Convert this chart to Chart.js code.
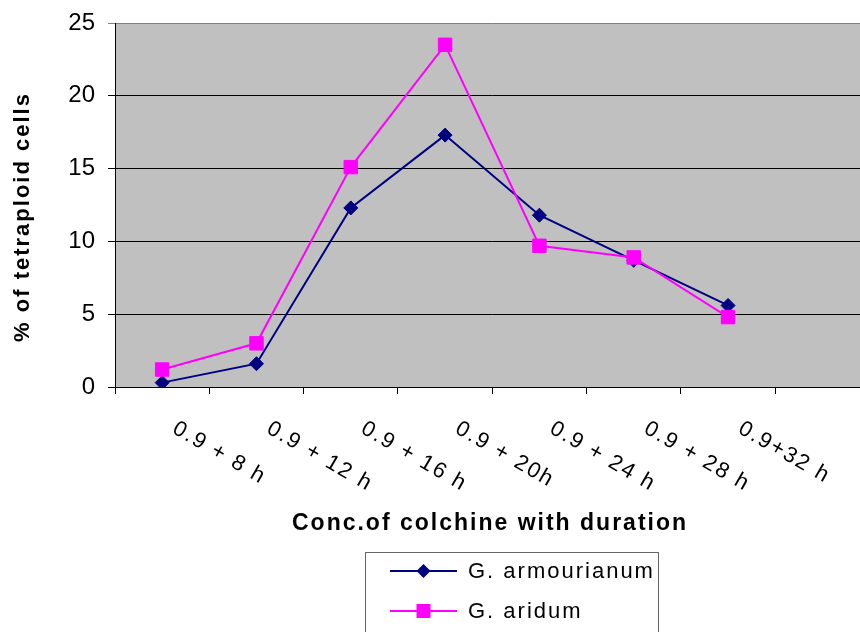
<!doctype html>
<html lang="en">
  <head>
    <meta charset="utf-8">
    <title>Tetraploid cells vs colchicine treatment</title>
    <style>
      html, body { margin: 0; padding: 0; background: #fff; overflow: hidden; }
      .chartBox { width: 880px; height: 632px; }
    </style>
  </head>
  <body>
    <div class="chartBox">
      <canvas id="myChart" width="880" height="632"></canvas>
    </div>
    <script src="https://cdn.jsdelivr.net/npm/chart.js"></script>
    <script>
      // data
      const categories = ['0.9 + 8 h', '0.9 + 12 h', '0.9 + 16 h', '0.9 + 20h', '0.9 + 24 h', '0.9 + 28 h', '0.9+32 h', ''];
      const armourianum = [0.3, 1.6, 12.3, 17.3, 11.8, 8.7, 5.6];
      const aridum = [1.2, 3.0, 15.1, 23.5, 9.7, 8.9, 4.8];
      const yTicks = [0, 5, 10, 15, 20, 25];
      const xTitle = 'Conc.of colchine with duration';
      const yTitle = '% of tetraploid cells';

      const NAVY = '#000080';
      const PINK = '#FF00FF';
      const FONT = '"Liberation Sans", Arial, sans-serif';

      // grey plot area
      const plotBg = {
        id: 'plotBg',
        beforeDraw(chart) {
          const { ctx, chartArea: a } = chart;
          ctx.save();
          ctx.fillStyle = '#C0C0C0';
          ctx.fillRect(a.left, a.top, a.right - a.left, a.bottom - a.top);
          ctx.restore();
        }
      };

      // slanted x labels, axis titles and the boxed legend
      const extras = {
        id: 'extras',
        afterDraw(chart) {
          const { ctx, chartArea: a } = chart;
          const xs = chart.scales.x;
          ctx.save();
          ctx.fillStyle = '#000';
          ctx.letterSpacing = '2px';

          // x labels, rotated clockwise
          ctx.font = '22px ' + FONT;
          ctx.textAlign = 'left';
          ctx.textBaseline = 'middle';
          categories.forEach((lab, i) => {
            if (!lab) return;
            const px = xs.getPixelForTick(i);
            ctx.save();
            ctx.translate(px + 12, a.bottom + 40);
            ctx.rotate(30 * Math.PI / 180);
            ctx.fillText(lab, 0, 0);
            ctx.restore();
          });

          // x title
          ctx.font = 'bold 23px ' + FONT;
          ctx.textAlign = 'center';
          ctx.fillText(xTitle, 490, 524);

          // y title
          ctx.save();
          ctx.font = 'bold 22px ' + FONT;
          ctx.translate(23, 217);
          ctx.rotate(-Math.PI / 2);
          ctx.fillText(yTitle, 0, 0);
          ctx.restore();

          // legend box
          ctx.strokeStyle = '#666';
          ctx.lineWidth = 1;
          ctx.strokeRect(365.5, 552.5, 293, 100);
          const items = [
            { label: 'G. armourianum', color: NAVY, shape: 'diamond', y: 571 },
            { label: 'G. aridum', color: PINK, shape: 'square', y: 611 }
          ];
          items.forEach(it => {
            ctx.strokeStyle = it.color;
            ctx.fillStyle = it.color;
            ctx.lineWidth = 2;
            ctx.beginPath();
            ctx.moveTo(390, it.y);
            ctx.lineTo(457, it.y);
            ctx.stroke();
            const cx = 423.5;
            ctx.beginPath();
            if (it.shape === 'diamond') {
              ctx.moveTo(cx, it.y - 7);
              ctx.lineTo(cx + 7, it.y);
              ctx.lineTo(cx, it.y + 7);
              ctx.lineTo(cx - 7, it.y);
              ctx.closePath();
              ctx.fill();
            } else {
              ctx.fillRect(cx - 7, it.y - 7, 14, 14);
            }
            ctx.fillStyle = '#000';
            ctx.font = '22px ' + FONT;
            ctx.textAlign = 'left';
            ctx.textBaseline = 'middle';
            ctx.fillText(it.label, 468, it.y + 1);
          });
          ctx.restore();
        }
      };

      const data = {
        labels: categories,
        datasets: [
          {
            label: 'G. armourianum',
            data: armourianum,
            borderColor: NAVY,
            backgroundColor: NAVY,
            borderWidth: 2,
            pointStyle: 'rectRot',
            pointRadius: 7,
            pointBorderWidth: 1,
            tension: 0,
            order: 1
          },
          {
            label: 'G. aridum',
            data: aridum,
            borderColor: PINK,
            backgroundColor: PINK,
            borderWidth: 2,
            pointStyle: 'rect',
            pointRadius: 9.5,
            pointBorderWidth: 1,
            tension: 0,
            order: 0
          }
        ]
      };

      const config = {
        type: 'line',
        data,
        options: {
          responsive: false,
          animation: false,
          devicePixelRatio: 1,
          layout: { padding: { top: 23, right: 7, left: 0, bottom: 0 } },
          scales: {
            x: {
              type: 'category',
              offset: true,
              grid: {
                offset: true,
                drawOnChartArea: false,
                drawTicks: true,
                tickLength: 7,
                color: '#000'
              },
              border: { color: '#000', width: 1 },
              ticks: { display: false },
              afterFit(s) { s.height = 245; }
            },
            y: {
              min: 0,
              max: 25,
              afterBuildTicks(s) { s.ticks = yTicks.map(v => ({ value: v })); },
              ticks: {
                color: '#000',
                padding: 13,
                font: { family: FONT, size: 24 }
              },
              grid: {
                color: c => (c.tick && c.tick.value === 25) ? '#808080' : '#000',
                lineWidth: 1,
                tickLength: 7
              },
              border: { color: '#000', width: 1 },
              afterFit(s) {
                s.width = 115;
                s.paddingTop = 0;
                s.paddingBottom = 0;
              }
            }
          },
          plugins: {
            legend: { display: false },
            tooltip: { enabled: false }
          }
        },
        plugins: [plotBg, extras]
      };

      const myChart = new Chart(document.getElementById('myChart'), config);
    </script>
  </body>
</html>
